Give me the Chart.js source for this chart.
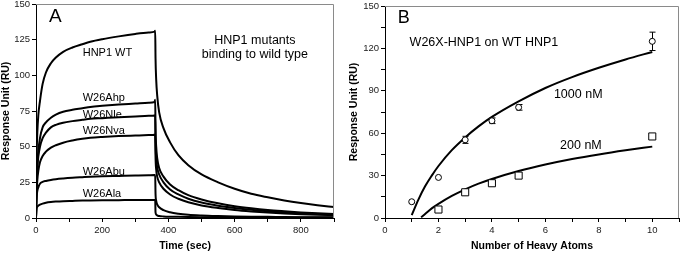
<!DOCTYPE html>
<html>
<head>
<meta charset="utf-8">
<script src="https://cdn.jsdelivr.net/npm/chart.js@4.4.1/dist/chart.umd.min.js"></script>
<style>
  html, body { margin: 0; padding: 0; background: #fff; }
  #wrap { position: relative; width: 685px; height: 255px; overflow: hidden; }
  .panel { position: absolute; top: 0; height: 255px; }
  #panelA { left: 0; width: 342px; }
  #panelB { left: 342px; width: 343px; }
</style>
</head>
<body>
<div id="wrap">
  <div class="panel" id="panelA"><canvas id="chartA" width="342" height="255"></canvas></div>
  <div class="panel" id="panelB"><canvas id="chartB" width="343" height="255"></canvas></div>
</div>
<script>
// ---- Panel A: sensorgrams (response vs time) ----
const timeSec = [0, 1, 2, 4, 7, 12, 20, 30, 45, 60, 82, 110, 140, 164, 200, 250, 300, 340, 358, 360,
                 361, 363, 366, 372, 385, 405, 430, 460, 500, 550, 600, 650, 700, 750, 800, 850, 900];
const wtResp  = [0, 30, 45, 60, 72, 82, 94, 102, 108.5, 112.5, 116.5, 119.5, 121.8, 123.5, 125.3, 127.3, 129, 130, 130.6, 131.3,
                 112, 97, 86, 74, 63, 53, 44, 37, 30.5, 25, 20.5, 17, 14.5, 12.3, 10.5, 9, 7.7];
const ahpResp = [0, 18, 28, 38, 47, 56, 63.5, 67, 70.3, 72.5, 74.5, 75.8, 76.9, 77.8, 78.6, 79.5, 80.2, 80.8, 81.3, 82.8,
                 62, 50, 42, 35, 29, 23.5, 19.5, 16, 13, 10.3, 8.3, 6.8, 5.6, 4.7, 3.9, 3.3, 2.8];
const nleResp = [0, 16, 25, 35, 43, 50, 56, 59.8, 63.5, 65.3, 66.8, 67.9, 68.8, 69.5, 70, 70.7, 71.2, 71.6, 71.8, 72,
                 53, 42, 35.5, 30.5, 25, 20, 16.5, 13.5, 10.8, 8.6, 7, 5.7, 4.7, 3.9, 3.3, 2.8, 2.4];
const nvaResp = [0, 12, 19, 26.5, 33, 39, 43.5, 46.5, 49.3, 51, 52.8, 54.3, 55.5, 56.2, 56.8, 57.4, 57.8, 58.1, 58.3, 58.5,
                 43, 34, 29, 25, 20.5, 16.5, 13.5, 11, 8.8, 7, 5.6, 4.6, 3.8, 3.2, 2.7, 2.3, 2];
const abuResp = [0, 10, 15, 19, 21.5, 24, 25.3, 26, 26.7, 27.2, 27.7, 28.2, 28.6, 28.9, 29.2, 29.5, 29.8, 30, 30.1, 30.2,
                 17, 12, 9.5, 7.5, 5.5, 4, 3, 2.3, 1.8, 1.4, 1.1, 0.9, 0.8, 0.7, 0.6, 0.5, 0.5];
const alaResp = [0, 5, 7, 8, 8.6, 9.3, 10.1, 10.7, 11.2, 11.5, 11.8, 12, 12.2, 12.3, 12.4, 12.5, 12.6, 12.6, 12.7, 12.7,
                 4, 2.5, 1.8, 1.4, 1.1, 0.9, 0.8, 0.7, 0.6, 0.5, 0.5, 0.4, 0.4, 0.35, 0.3, 0.3, 0.3];
const seriesA = [
  { name: 'HNP1 WT', values: wtResp },
  { name: 'W26Ahp', values: ahpResp },
  { name: 'W26Nle', values: nleResp },
  { name: 'W26Nva', values: nvaResp },
  { name: 'W26Abu', values: abuResp },
  { name: 'W26Ala', values: alaResp }
];
const timeTicks = [0, 200, 400, 600, 800];
const respTicksA = [0, 25, 50, 75, 100, 125, 150];

// ---- Panel B: response vs number of heavy atoms ----
const atoms1000 = [1, 2, 3, 4, 5, 10];
const resp1000 = [11.5, 28.7, 55.3, 68.8, 78.3, 125];
const err1000 = [0, 0, 2.5, 2, 2, 6.5];
const atoms200 = [2, 3, 4, 5, 10];
const resp200 = [6, 18.2, 24.6, 30, 57.7];
const fitX1000 = [1, 1.25, 1.5, 1.75, 2, 2.5, 3, 3.5, 4, 5, 6, 7, 8, 9, 10];
const fitY1000 = [2, 13, 22.4, 30, 36.8, 48, 57, 64.8, 71.5, 82.5, 92, 99.7, 106.3, 112.2, 117.5];
const fitX200 = [1.35, 1.5, 1.75, 2, 2.5, 3, 3.5, 4, 5, 6, 7, 8, 9, 10];
const fitY200 = [0.5, 2.8, 6.8, 10, 15.6, 20.3, 24.3, 27.6, 33.2, 37.8, 41.7, 45, 47.9, 50.5];
const atomTicks = [0, 2, 4, 6, 8, 10];
const respTicksB = [0, 30, 60, 90, 120, 150];

const FONT = "'Liberation Sans', Arial, sans-serif";
const pairs = (xs, ys) => xs.map((x, i) => ({ x: x, y: ys[i] }));

// Helper plugins
const framePlugin = {
  id: 'frame',
  afterDraw(chart) {
    const { ctx, chartArea: a } = chart;
    ctx.save();
    ctx.strokeStyle = '#8a8a8a';
    ctx.lineWidth = 1;
    ctx.beginPath();
    ctx.moveTo(a.left, a.top + 0.5);
    ctx.lineTo(a.right - 0.5, a.top + 0.5);
    ctx.lineTo(a.right - 0.5, a.bottom);
    ctx.stroke();
    ctx.restore();
  }
};

const notesPlugin = {
  id: 'notes',
  afterDraw(chart, args, opts) {
    const { ctx, scales } = chart;
    ctx.save();
    ctx.fillStyle = '#000';
    ctx.textBaseline = 'alphabetic';
    (opts.items || []).forEach(n => {
      ctx.font = (n.bold ? 'bold ' : '') + n.size + 'px ' + FONT;
      ctx.textAlign = n.align || 'left';
      ctx.fillText(n.text, scales.x.getPixelForValue(n.x), scales.y.getPixelForValue(n.y));
    });
    ctx.restore();
  }
};

const errorBarPlugin = {
  id: 'errbars',
  beforeDatasetsDraw(chart) {
    const { ctx, scales } = chart;
    ctx.save();
    ctx.strokeStyle = '#000';
    ctx.lineWidth = 1;
    chart.data.datasets.forEach(ds => {
      if (!ds.errors) return;
      ds.data.forEach((p, i) => {
        const e = ds.errors[i];
        if (!e) return;
        const x = Math.round(scales.x.getPixelForValue(p.x)) + 0.5;
        const y1 = scales.y.getPixelForValue(p.y + e);
        const y2 = scales.y.getPixelForValue(p.y - e);
        ctx.beginPath();
        ctx.moveTo(x, y1); ctx.lineTo(x, y2);
        ctx.moveTo(x - 3, y1); ctx.lineTo(x + 3, y1);
        ctx.moveTo(x - 3, y2); ctx.lineTo(x + 3, y2);
        ctx.stroke();
      });
    });
    ctx.restore();
  }
};

function axisX(min, max, step, labels, title, width) {
  return {
    type: 'linear', min: min, max: max,
    ticks: {
      stepSize: step, autoSkip: false, maxRotation: 0, padding: 3,
      color: '#222', font: { family: FONT, size: 9.5 },
      callback: v => labels.includes(v) ? v : ''
    },
    grid: { drawOnChartArea: false, tickLength: 4, color: '#000' },
    border: { color: '#000', width: 1 },
    title: { display: !!title, text: title, color: '#000', font: { family: FONT, size: 10.5, weight: 'bold' }, padding: { top: 0, bottom: 3 } },
    afterFit: s => { s.height = 37; s.paddingLeft = 0; s.paddingRight = 0; }
  };
}

function axisY(step, labels, width, titlePad) {
  return {
    type: 'linear', min: 0, max: 150,
    ticks: {
      stepSize: step, autoSkip: false, padding: 2,
      color: '#222', font: { family: FONT, size: 9.5 },
      callback: v => labels.includes(v) ? v : ''
    },
    grid: { drawOnChartArea: false, tickLength: 4, color: '#000' },
    border: { color: '#000', width: 1 },
    title: { display: true, text: 'Response Unit (RU)', color: '#000', font: { family: FONT, size: 10.5, weight: 'bold' }, padding: { top: titlePad, bottom: 0 } },
    afterFit: s => { s.width = width; s.paddingTop = 0; s.paddingBottom = 0; }
  };
}

// Chart A
new Chart(document.getElementById('chartA'), {
  type: 'scatter',
  data: {
    datasets: seriesA.map(s => ({
      label: s.name,
      data: pairs(timeSec, s.values),
      showLine: true,
      borderColor: '#000',
      borderWidth: 2,
      pointRadius: 0,
      cubicInterpolationMode: 'monotone'
    }))
  },
  options: {
    responsive: false,
    animation: false,
    layout: { padding: { top: 4, right: 8, left: 0, bottom: 0 } },
    scales: {
      x: axisX(0, 900, 100, timeTicks, 'Time (sec)'),
      y: axisY(25, respTicksA, 36, 0)
    },
    plugins: {
      legend: { display: false },
      tooltip: { enabled: false },
      notes: {
        items: [
          { text: 'A', x: 39, y: 137.5, size: 19 },
          { text: 'HNP1 WT', x: 141, y: 113.5, size: 11 },
          { text: 'W26Ahp', x: 141, y: 82, size: 11 },
          { text: 'W26Nle', x: 141, y: 70, size: 11 },
          { text: 'W26Nva', x: 141, y: 59, size: 11 },
          { text: 'W26Abu', x: 141, y: 30, size: 11 },
          { text: 'W26Ala', x: 141, y: 15, size: 11 },
          { text: 'HNP1 mutants', x: 661, y: 122, size: 12.5, align: 'center' },
          { text: 'binding to wild type', x: 661, y: 112.5, size: 12.5, align: 'center' }
        ]
      }
    }
  },
  plugins: [framePlugin, notesPlugin]
});

// Chart B
new Chart(document.getElementById('chartB'), {
  type: 'scatter',
  data: {
    datasets: [
      {
        label: '1000 nM data', data: pairs(atoms1000, resp1000), errors: err1000,
        pointStyle: 'circle', pointRadius: 3, borderColor: '#000', backgroundColor: '#fff', borderWidth: 1
      },
      {
        label: '200 nM data', data: pairs(atoms200, resp200),
        pointStyle: 'rect', pointRadius: 5, borderColor: '#000', backgroundColor: '#fff', borderWidth: 1
      },
      {
        label: '1000 nM fit', data: pairs(fitX1000, fitY1000), showLine: true,
        borderColor: '#000', borderWidth: 2, pointRadius: 0, cubicInterpolationMode: 'monotone'
      },
      {
        label: '200 nM fit', data: pairs(fitX200, fitY200), showLine: true,
        borderColor: '#000', borderWidth: 2, pointRadius: 0, cubicInterpolationMode: 'monotone'
      }
    ]
  },
  options: {
    responsive: false,
    animation: false,
    layout: { padding: { top: 4, right: 1, left: 0, bottom: 0 } },
    scales: {
      x: axisX(0, 11, 1, atomTicks, 'Number of Heavy Atoms'),
      y: axisY(15, respTicksB, 43, 6)
    },
    plugins: {
      legend: { display: false },
      tooltip: { enabled: false },
      notes: {
        items: [
          { text: 'B', x: 0.48, y: 138.3, size: 18 },
          { text: 'W26X-HNP1 on WT HNP1', x: 0.92, y: 122, size: 12.5 },
          { text: '1000 nM', x: 6.32, y: 84.8, size: 12.5 },
          { text: '200 nM', x: 6.55, y: 49, size: 12.5 }
        ]
      }
    }
  },
  plugins: [errorBarPlugin, framePlugin, notesPlugin]
});
</script>
</body>
</html>
